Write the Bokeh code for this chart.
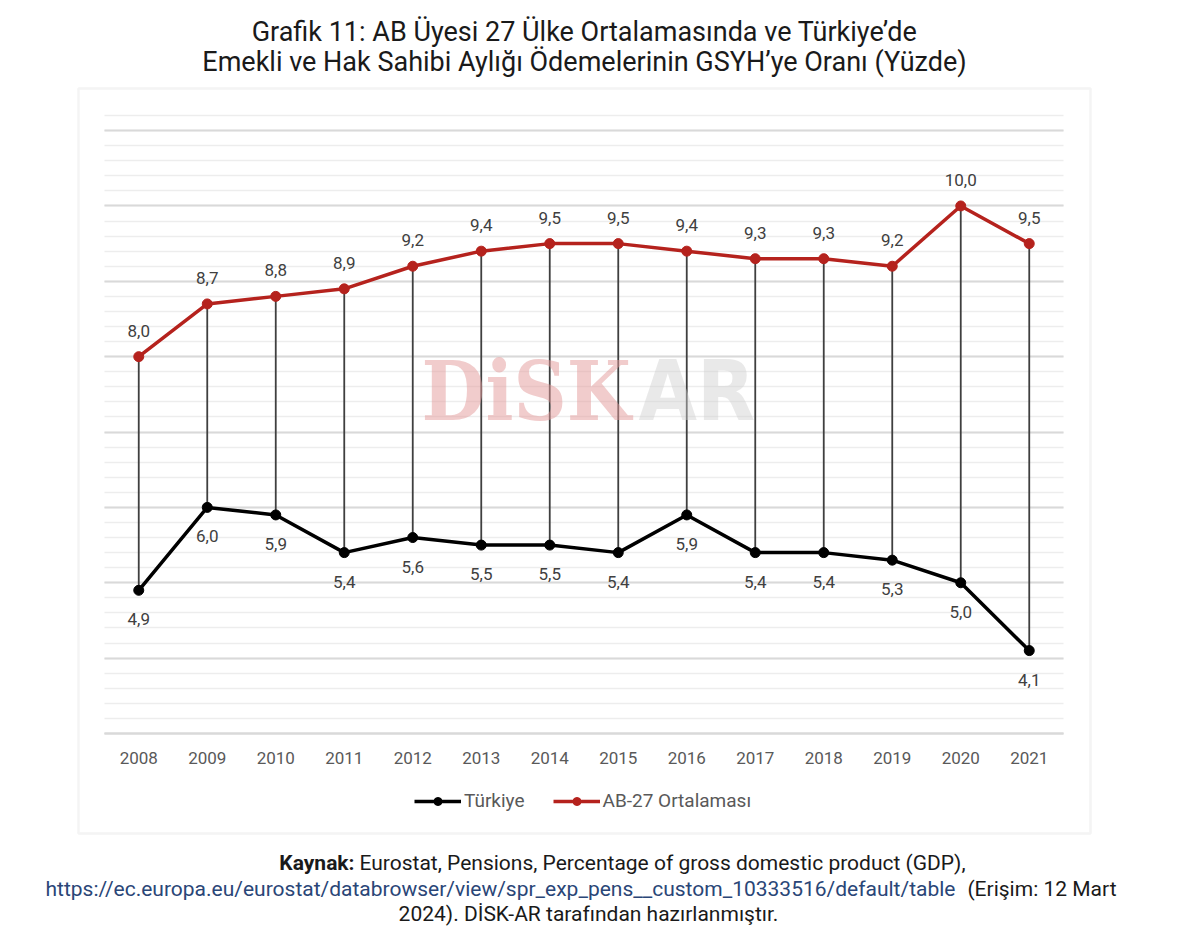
from bokeh.plotting import figure
from bokeh.models import (ColumnDataSource, Label, BoxAnnotation, Legend, LegendItem, Grid,
                          SingleIntervalTicker, FixedTicker, Range1d)
from bokeh.embed import file_html
from bokeh.resources import INLINE
from bokeh.core.properties import value

# ---------------- data ----------------
years = [2008, 2009, 2010, 2011, 2012, 2013, 2014, 2015, 2016, 2017, 2018, 2019, 2020, 2021]
turkiye = [4.9, 6.0, 5.9, 5.4, 5.6, 5.5, 5.5, 5.4, 5.9, 5.4, 5.4, 5.3, 5.0, 4.1]
ab27 = [8.0, 8.7, 8.8, 8.9, 9.2, 9.4, 9.5, 9.5, 9.4, 9.3, 9.3, 9.2, 10.0, 9.5]
series_names = ["Türkiye", "AB-27 Ortalaması"]
title_lines = ["Grafik 11: AB Üyesi 27 Ülke Ortalamasında ve Türkiye’de",
               "Emekli ve Hak Sahibi Aylığı Ödemelerinin GSYH’ye Oranı (Yüzde)"]
source_label = "Kaynak:"
source_rest = "Eurostat, Pensions, Percentage of gross domestic product (GDP),"
source_url = "https://ec.europa.eu/eurostat/databrowser/view/spr_exp_pens__custom_10333516/default/table"
source_access = "(Erişim: 12 Mart"
source_last = "2024). DİSK-AR tarafından hazırlanmıştır."
y_min, y_max = 3.0, 11.2


def fmt(v):
    return f"{v:.1f}".replace(".", ",")


src = ColumnDataSource(dict(
    x=years, tr=turkiye, ab=ab27,
    tr_lbl=[fmt(v) for v in turkiye],
    ab_lbl=[fmt(v) for v in ab27],
))

# ---------------- layout (pixels) ----------------
W, H = 1200, 943
PL, PR, PT, PB = 104, 1063, 115, 733     # plotting area inside the canvas
FONT = "Roboto"
RED = "#B5221D"

x_lo, x_hi = years[0] - 0.5, years[-1] + 0.5
xs = (PR - PL) / (x_hi - x_lo)
ys = (PB - PT) / (y_max - y_min)
x_range = Range1d(x_lo - PL / xs, x_hi + (W - PR) / xs)
y_range = Range1d(y_min - (H - PB) / ys, y_max + PT / ys)

p = figure(width=W, height=H, x_range=x_range, y_range=y_range, title=None,
           output_backend="svg", toolbar_location=None, y_axis_location=None,
           min_border=0, min_border_left=0, min_border_right=0,
           min_border_top=0, min_border_bottom=0)
p.outline_line_color = None
p.background_fill_color = "white"
p.border_fill_color = "white"
for g in p.grid:
    g.visible = False

# x axis drawn at the bottom of the value range
p.xaxis.fixed_location = y_min
p.xaxis.bounds = (x_lo, x_hi)
p.xaxis.ticker = FixedTicker(ticks=years)
p.xaxis.major_label_overrides = {y: str(y) for y in years}
p.xaxis.axis_line_color = "#d9d9d9"
p.xaxis.axis_line_width = 2
p.xaxis.major_tick_line_color = None
p.xaxis.minor_tick_line_color = None
p.xaxis.major_label_text_font = FONT
p.xaxis.major_label_text_font_size = "17px"
p.xaxis.major_label_text_color = "#595959"
p.xaxis.major_label_standoff = 12

# horizontal grid
grid = Grid(dimension=1, ticker=SingleIntervalTicker(interval=1, num_minor_ticks=5),
            bounds=(y_min, y_max + 0.01),
            grid_line_color="#d9d9d9", grid_line_width=2,
            minor_grid_line_color="#ededed", minor_grid_line_width=1.5)
try:
    grid.cross_bounds = (x_lo, x_hi)
    p.add_layout(grid, "center")
except AttributeError:
    nmin = int(round((y_max - y_min) / 0.2))
    gy = [y_min + 0.2 * i for i in range(nmin + 1)]
    major = [abs(v - round(v)) < 1e-6 for v in gy]
    p.segment(x0=[x_lo] * len(gy), x1=[x_hi] * len(gy), y0=gy, y1=gy,
              line_color=["#d9d9d9" if m else "#ededed" for m in major],
              line_width=[2 if m else 1.5 for m in major])


def sy(cy):
    return H - cy


# watermark
p.add_layout(Label(x=421, y=sy(390), text="DiSK", x_units="screen", y_units="screen",
                   text_font="DejaVu Serif Condensed", text_font_style="bold",
                   text_font_size="82px",
                   text_color="#e39a9a", text_alpha=0.5, text_baseline="middle",
                   level="glyph"))
p.add_layout(Label(x=638, y=sy(390), text="AR", x_units="screen", y_units="screen",
                   text_font="DejaVu Sans Condensed", text_font_style="bold",
                   text_font_size="84px",
                   text_color="#cfcfcf", text_alpha=0.45, text_baseline="middle",
                   level="glyph"))

# drop lines
p.segment(x0="x", y0="tr", x1="x", y1="ab", source=src, line_color="#3f3f3f", line_width=1.8)

tr_line = p.line("x", "tr", source=src, line_color="black", line_width=3.5)
tr_pts = p.scatter("x", "tr", source=src, size=10, fill_color="black", line_color="black")
ab_line = p.line("x", "ab", source=src, line_color=RED, line_width=3.5)
ab_pts = p.scatter("x", "ab", source=src, size=10, fill_color=RED, line_color=RED)

p.text("x", "ab", text="ab_lbl", source=src, text_align="center", text_baseline="middle",
       y_offset=-26, text_font=value(FONT), text_font_size="17px", text_color="#404040")
p.text("x", "tr", text="tr_lbl", source=src, text_align="center", text_baseline="middle",
       y_offset=29, text_font=value(FONT), text_font_size="17px", text_color="#404040")

legend = Legend(items=[LegendItem(label=series_names[0], renderers=[tr_line, tr_pts]),
                       LegendItem(label=series_names[1], renderers=[ab_line, ab_pts])],
                orientation="horizontal", location=(414, sy(812)),
                glyph_width=47, glyph_height=20, label_standoff=3, spacing=28,
                label_text_font=FONT, label_text_font_size="19px", label_text_color="#595959",
                border_line_color=None, background_fill_alpha=0, padding=4, margin=0)
p.add_layout(legend, "center")

# chart border
p.add_layout(BoxAnnotation(left=78, right=1090, top=sy(88), bottom=sy(833),
                           left_units="screen", right_units="screen",
                           top_units="screen", bottom_units="screen",
                           fill_alpha=0, line_color="#d9d9d9", line_width=2.5))

# title
for i, t in enumerate(title_lines):
    p.add_layout(Label(x=584, y=sy(31 + 30 * i), text=t, x_units="screen",
                       y_units="screen", text_align="center", text_baseline="middle",
                       text_font=FONT, text_font_size="27px", text_color="#1a1a1a"))

# source footer
FS = "21px"
p.add_layout(Label(x=354, y=sy(862), text=source_label, x_units="screen",
                   y_units="screen", text_align="right", text_baseline="middle",
                   text_font=FONT, text_font_size=FS, text_font_style="bold",
                   text_color="#1a1a1a"))
p.add_layout(Label(x=359, y=sy(862), text=source_rest, x_units="screen",
                   y_units="screen", text_align="left", text_baseline="middle",
                   text_font=FONT, text_font_size=FS, text_color="#1a1a1a"))
p.add_layout(Label(x=45, y=sy(888), text=source_url, x_units="screen",
                   y_units="screen", text_align="left", text_baseline="middle",
                   text_font=FONT, text_font_size=FS, text_color="#2A4677"))
p.add_layout(Label(x=1116, y=sy(888), text=source_access, x_units="screen",
                   y_units="screen", text_align="right", text_baseline="middle",
                   text_font=FONT, text_font_size=FS, text_color="#1a1a1a"))
p.add_layout(Label(x=588, y=sy(913), text=source_last, x_units="screen",
                   y_units="screen", text_align="center", text_baseline="middle",
                   text_font=FONT, text_font_size=FS, text_color="#1a1a1a"))

open("out.html", "w").write(file_html(p, INLINE))
